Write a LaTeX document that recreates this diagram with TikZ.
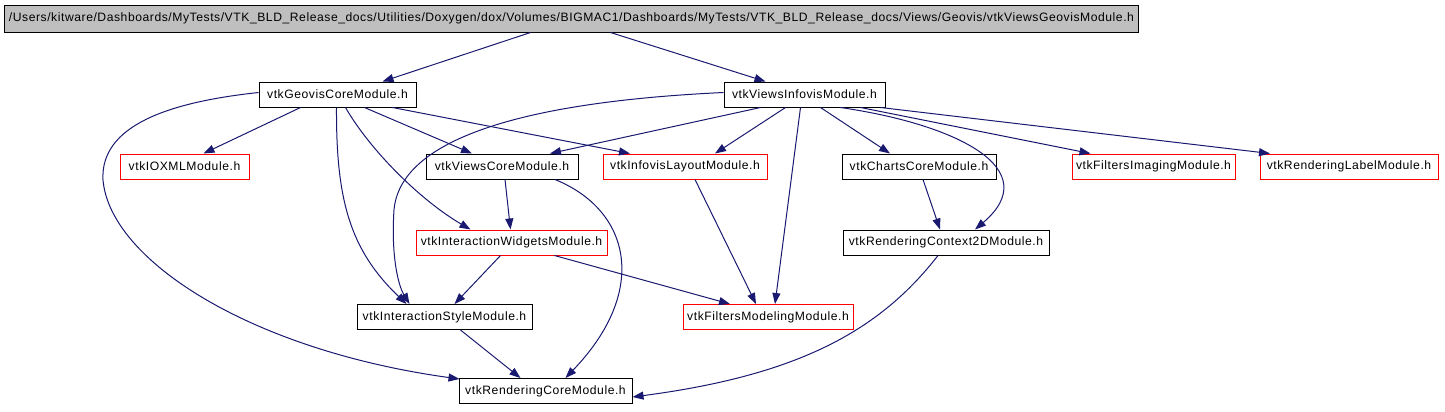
\documentclass[tikz,border=0pt]{standalone}
\usepackage{fontspec}
\setmainfont[LetterSpace=4.5]{Liberation Sans}
\usetikzlibrary{arrows.meta}

\definecolor{edgeblue}{HTML}{191970}
\definecolor{rootgray}{HTML}{BFBFBF}

\tikzset{
  mod/.style={draw=black, text=black, rectangle, line width=1bp, inner sep=0pt, minimum height=25bp,
    font=\fontsize{12.2}{14}\selectfont},
  extmod/.style={mod, draw=red},
  rootmod/.style={mod, fill=rootgray, minimum height=27bp},
  dep/.style={edgeblue, line width=1bp, -{Triangle[length=11bp,width=8bp]}}
}

\begin{document}
\begin{tikzpicture}[x=1bp, y=-1bp]
\useasboundingbox (0,0) rectangle (1445,411);
% header file and its modules
\node[rootmod, minimum width=1133bp] (root) at (571.5,18.5) {/Users/kitware/Dashboards/MyTests/VTK\_BLD\_Release\_docs/Utilities/Doxygen/dox/Volumes/BIGMAC1/Dashboards/MyTests/VTK\_BLD\_Release\_docs/Views/Geovis/vtkViewsGeovisModule.h};
\node[mod, minimum width=157bp] (geo) at (337.5,94.5) {vtkGeovisCoreModule.h};
\node[mod, minimum width=161bp] (vinf) at (804.5,94.5) {vtkViewsInfovisModule.h};
\node[extmod, minimum width=129bp] (ioxml) at (184.5,166.5) {vtkIOXMLModule.h};
\node[mod, minimum width=152bp] (vcore) at (502,166.5) {vtkViewsCoreModule.h};
\node[extmod, minimum width=164bp] (ilay) at (685,166.5) {vtkInfovisLayoutModule.h};
\node[mod, minimum width=154bp] (charts) at (919,166.5) {vtkChartsCoreModule.h};
\node[extmod, minimum width=163bp] (fimg) at (1153.5,166.5) {vtkFiltersImagingModule.h};
\node[extmod, minimum width=178bp] (rlabel) at (1349,166.5) {vtkRenderingLabelModule.h};
\node[extmod, minimum width=191bp] (iwid) at (511.5,242.5) {vtkInteractionWidgetsModule.h};
\node[mod, minimum width=206bp] (rctx) at (946,242.5) {vtkRenderingContext2DModule.h};
\node[mod, minimum width=175bp] (istyle) at (444.5,317) {vtkInteractionStyleModule.h};
\node[extmod, minimum width=170bp] (fmod) at (768,317) {vtkFiltersModelingModule.h};
\node[mod, minimum width=173bp] (rcore) at (545.5,391) {vtkRenderingCoreModule.h};

% include edges
\draw[dep] ([xshift=-41bp]root.south) -- ([xshift=45bp]geo.north);
\draw[dep] ([xshift=39bp]root.south) -- ([xshift=-39bp]vinf.north);

\draw[dep] ([yshift=2bp]geo.west) .. controls (170,102) and (100,125) .. (103,180)
  .. controls (110,260) and (250,350) .. ([xshift=-86bp,yshift=-1bp]rcore.north);
\draw[dep] ([xshift=-37bp]geo.south) -- ([xshift=19bp]ioxml.north);
\draw[dep] ([xshift=-1bp]geo.south) .. controls (336,200) and (350,250) .. ([xshift=-38bp]istyle.north);
\draw[dep] ([xshift=8bp]geo.south) .. controls (370,150) and (420,200) .. ([xshift=-41bp]iwid.north);
\draw[dep] ([xshift=27bp]geo.south) -- ([xshift=-30bp]vcore.north);
\draw[dep] ([xshift=55bp]geo.south) -- ([xshift=-55bp]ilay.north);

\draw[dep] ([yshift=2bp]vinf.west) .. controls (520,102) and (400,140) .. (394,210)
  .. controls (391,255) and (398,285) .. ([xshift=-35bp]istyle.north);
\draw[dep] ([xshift=-44bp]vinf.south) -- ([xshift=48bp]vcore.north);
\draw[dep] ([xshift=-19bp]vinf.south) -- ([xshift=30bp]ilay.north);
\draw[dep] ([xshift=-4bp]vinf.south) -- ([xshift=7bp]fmod.north);
\draw[dep] ([xshift=16bp]vinf.south) -- ([xshift=-29bp]charts.north);
\draw[dep] ([xshift=36bp]vinf.south) .. controls (960,125) and (1045,170) .. ([xshift=29bp]rctx.north);
\draw[dep] ([xshift=56bp]vinf.south) -- ([xshift=-63bp]fimg.north);
\draw[dep] ([xshift=76bp]vinf.south) -- ([xshift=-79bp]rlabel.north);

\draw[dep] ([xshift=3bp]vcore.south) -- ([xshift=-1bp]iwid.north);
\draw[dep] ([xshift=53bp]vcore.south) .. controls (630,210) and (650,290) .. ([xshift=20bp]rcore.north);
\draw[dep] ([xshift=10bp]ilay.south) -- ([xshift=-12bp]fmod.north);
\draw[dep] ([xshift=4bp]charts.south) -- ([xshift=-6bp]rctx.north);
\draw[dep] ([xshift=-11bp]iwid.south) -- ([xshift=10bp]istyle.north);
\draw[dep] ([xshift=43bp]iwid.south) -- ([xshift=-38bp]fmod.north);
\draw[dep] ([xshift=16bp]istyle.south) -- ([xshift=-25bp]rcore.north);
\draw[dep] ([xshift=-8bp]rctx.south) .. controls (880,330) and (800,375) .. ([yshift=-6bp]rcore.east);
\end{tikzpicture}
\end{document}
